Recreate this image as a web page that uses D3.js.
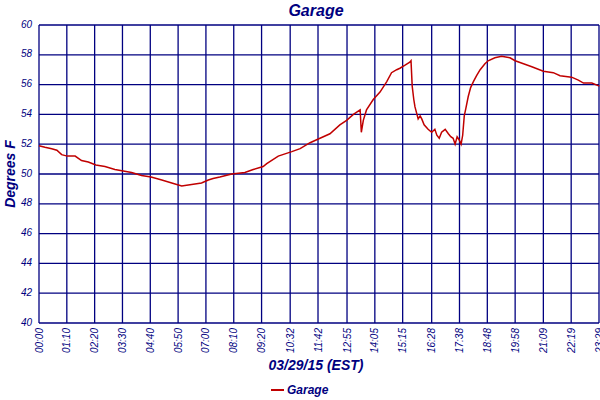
<!DOCTYPE html>
<html>
<head>
<meta charset="utf-8">
<script src="https://cdn.jsdelivr.net/npm/d3@7"></script>
<style>
	body { margin: 0; background: #fff; }
	text { font-family: "Liberation Sans", Arial, sans-serif; fill: #000080; }
</style>
</head>
<body>
<script>
// tick labels along the time axis (one per grid column)
var tick_labels = ['00:00','01:10','02:20','03:30','04:40','05:50','07:00','08:10','09:20','10:32',
	'11:42','12:55','14:05','15:15','16:28','17:38','18:48','19:58','21:09','22:19','23:29'];
var y_ticks = [40, 42, 44, 46, 48, 50, 52, 54, 56, 58, 60];

// readings: time of day and temperature (F)
var times = ['00:00','00:15','00:32','00:45','00:57','01:11','01:31','01:47','02:04','02:23',
	'02:46','03:11','03:32','03:53','04:18','04:42','05:09','05:34','05:59','06:24',
	'06:49','07:06','07:18','07:35','08:05','08:38','08:59','09:24','09:33','10:02',
	'10:36','10:57','11:22','11:47','12:12','12:37','12:54','13:11','13:28','13:31',
	'13:36','13:44','14:01','14:18','14:35','14:47','15:00','15:08','15:21','15:33',
	'15:36','15:39','15:43','15:46','15:50','15:54','15:59','16:03','16:09','16:19',
	'16:28','16:36','16:41','16:47','16:53','17:02','17:10','17:16','17:22','17:27',
	'17:32','17:37','17:42','17:46','17:50','17:54','18:00','18:06','18:13','18:21',
	'18:30','18:42','18:50','19:07','19:24','19:45','19:58','20:19','20:40','21:09',
	'21:34','21:51','22:20','22:37','22:50','23:11','23:30'];
var temps = [51.9, 51.8, 51.7, 51.6, 51.3, 51.2, 51.2, 50.9, 50.8, 50.6,
	50.5, 50.3, 50.2, 50.1, 49.9, 49.8, 49.6, 49.4, 49.2, 49.3,
	49.4, 49.6, 49.7, 49.8, 50.0, 50.1, 50.3, 50.5, 50.7, 51.2,
	51.5, 51.7, 52.1, 52.4, 52.7, 53.3, 53.6, 54.0, 54.3, 52.8,
	53.6, 54.3, 55.0, 55.5, 56.2, 56.8, 57.0, 57.1, 57.3, 57.5,
	57.6, 55.9, 55.0, 54.5, 54.1, 53.7, 53.9, 53.7, 53.3, 53.0,
	52.8, 53.0, 52.6, 52.4, 52.8, 53.0, 52.7, 52.5, 52.4, 52.0,
	52.5, 52.3, 52.0, 52.6, 53.9, 54.4, 55.2, 55.8, 56.2, 56.6,
	57.0, 57.4, 57.6, 57.8, 57.9, 57.8, 57.6, 57.4, 57.2, 56.9,
	56.8, 56.6, 56.5, 56.3, 56.1, 56.1, 55.9];

function to_min(s) { var p = s.split(':'); return +p[0]*60 + +p[1]; }

var width = 600, height = 400;
var plot_left = 39, plot_right = 599, plot_top = 25, plot_bottom = 323;

var svg = d3.select('body').append('svg').attr('width', width).attr('height', height);

var x = d3.scaleLinear().domain([0, to_min(tick_labels[tick_labels.length-1])]).range([plot_left, plot_right]);
var y = d3.scaleLinear().domain([40, 60]).range([plot_bottom, plot_top]);

// grid: verticals at each labelled time, horizontals at each degree tick
var grid = svg.append('g');
grid.selectAll('line.v').data(tick_labels).enter().append('line')
	.attr('x1', d => x(to_min(d))).attr('x2', d => x(to_min(d)))
	.attr('y1', plot_top).attr('y2', plot_bottom)
	.attr('stroke', '#000080').attr('stroke-width', 1.3);
grid.selectAll('line.h').data(y_ticks).enter().append('line')
	.attr('x1', plot_left).attr('x2', plot_right)
	.attr('y1', d => y(d)).attr('y2', d => y(d))
	.attr('stroke', '#000080').attr('stroke-width', 1.3);

// tick labels
svg.selectAll('text.ytick').data(y_ticks).enter().append('text')
	.attr('x', plot_left - 7).attr('y', d => y(d) - 1).attr('dy', '0.35em')
	.attr('text-anchor', 'end').attr('font-size', 10).attr('font-style', 'italic')
	.text(d => d);
svg.selectAll('text.xtick').data(tick_labels).enter().append('text')
	.attr('transform', d => 'translate(' + x(to_min(d)) + ',' + (plot_bottom + 5) + ') rotate(-90)')
	.attr('dy', '0.35em').attr('text-anchor', 'end')
	.attr('font-size', 10).attr('font-style', 'italic')
	.text(d => d);

// data line
var data = times.map((t, i) => ({m: to_min(t), v: temps[i]}));
svg.append('path').datum(data)
	.attr('fill', 'none').attr('stroke', '#c00000').attr('stroke-width', 1.5)
	.attr('d', d3.line().x(d => x(d.m)).y(d => y(d.v)));

// titles
svg.append('text').attr('x', 316).attr('y', 16).attr('text-anchor', 'middle')
	.attr('font-size', 16).attr('font-weight', 'bold').attr('font-style', 'italic')
	.text('Garage');
svg.append('text').attr('x', 316).attr('y', 370).attr('text-anchor', 'middle')
	.attr('font-size', 14).attr('font-weight', 'bold').attr('font-style', 'italic')
	.text('03/29/15 (EST)');
svg.append('text').attr('transform', 'translate(15,' + 174 + ') rotate(-90)')
	.attr('text-anchor', 'middle')
	.attr('font-size', 14).attr('font-weight', 'bold').attr('font-style', 'italic')
	.text('Degrees F');

// legend
svg.append('line').attr('x1', 271).attr('x2', 284).attr('y1', 390).attr('y2', 390)
	.attr('stroke', '#c00000').attr('stroke-width', 2);
svg.append('text').attr('x', 287).attr('y', 394)
	.attr('font-size', 12).attr('font-weight', 'bold').attr('font-style', 'italic')
	.text('Garage');
</script>
</body>
</html>
